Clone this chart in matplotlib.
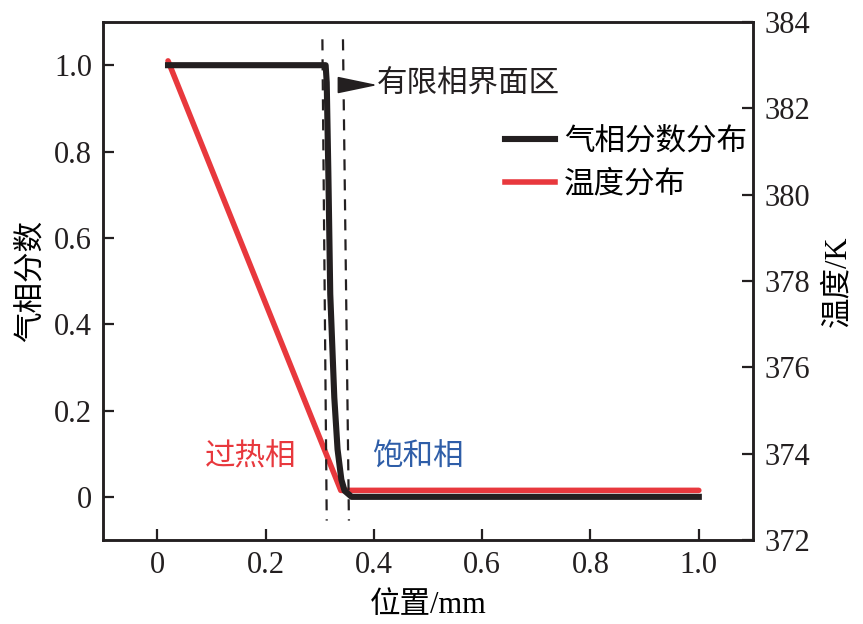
import matplotlib
matplotlib.use("Agg")
import matplotlib.pyplot as plt
from matplotlib.lines import Line2D

plt.rcParams['font.family'] = ['Liberation Serif', 'Noto Sans CJK SC']

# Data
pos_black = [0.02, 0.311, 0.313, 0.316, 0.3195, 0.327, 0.333, 0.340, 0.346, 0.359, 1.0]
frac_black = [1.0, 1.0, 0.96, 0.75, 0.47, 0.23, 0.11, 0.04, 0.014, 0.0, 0.0]
pos_red = [0.02, 0.339, 1.0]
temp_red = [383.1, 373.15, 373.15]
xticks = [0, 0.2, 0.4, 0.6, 0.8, 1.0]
xticklabels = ['0', '0.2', '0.4', '0.6', '0.8', '1.0']
yticks = [0, 0.2, 0.4, 0.6, 0.8, 1.0]
yticklabels = ['0', '0.2', '0.4', '0.6', '0.8', '1.0']
rticks = [372, 374, 376, 378, 380, 382, 384]
dash_lines = [(0.305, 0.313), (0.343, 0.354)]

BLACK = '#231f20'
RED = '#e8383d'
BLUE = '#2f5ea8'
FS = 22

fig = plt.figure(figsize=(8.63, 6.24), dpi=100)
ax = fig.add_axes([0.1194, 0.1346, 0.8725 - 0.1194, 0.9647 - 0.1346])
ax2 = ax.twinx()

ax.plot(pos_black, frac_black, color=BLACK, lw=4.4, solid_joinstyle='round', zorder=3)
ax2.plot(pos_red, temp_red, color=RED, lw=4.0, solid_capstyle='round', zorder=4)
ax.set_zorder(ax2.get_zorder() + 1)
ax.patch.set_visible(False)

for xt, xb in dash_lines:
    ax.plot([xt, xb], [1.06, -0.055], color=BLACK, lw=1.6, ls=(0, (5, 4)), zorder=2)

ax.set_xlim(-0.1, 1.1)
ax.set_ylim(-0.1, 1.1)
ax2.set_ylim(372, 384)

ax.set_xticks(xticks)
ax.set_xticklabels(xticklabels)
ax.set_yticks(yticks)
ax.set_yticklabels(yticklabels)
ax2.set_yticks(rticks)

for a in (ax, ax2):
    for s in a.spines.values():
        s.set_linewidth(1.8)
        s.set_color(BLACK)
    a.tick_params(direction='in', length=8, width=1.6, labelsize=FS, colors=BLACK, pad=8)

ax.set_xlabel('位置/mm', fontsize=FS, labelpad=8)
ax.set_ylabel('气相分数', fontsize=FS, labelpad=6)
ax2.set_ylabel('温度/K', fontsize=FS, labelpad=10)

# arrow annotation
ax.annotate('', xy=(0.407, 0.954), xytext=(0.336, 0.954),
            arrowprops=dict(arrowstyle='-|>,head_length=1.15,head_width=0.24',
                            color=BLACK, lw=1.2, mutation_scale=22,
                            shrinkA=0, shrinkB=0))
ax.text(0.405, 0.954, '有限相界面区', fontsize=FS, va='center', ha='left', color=BLACK)

ax.text(0.088, 0.09, '过热相', fontsize=FS, va='center', ha='left', color=RED)
ax.text(0.396, 0.09, '饱和相', fontsize=FS, va='center', ha='left', color=BLUE)

handles = [Line2D([], [], color=BLACK, lw=4.4), Line2D([], [], color=RED, lw=4.0)]
ax.legend(handles, ['气相分数分布', '温度分布'], loc='upper left',
          bbox_to_anchor=(0.618, 0.796), frameon=False, fontsize=FS,
          handlelength=1.65, handletextpad=0.3, borderpad=0, borderaxespad=0,
          labelspacing=0.45)

fig.savefig('out.png', dpi=100)
